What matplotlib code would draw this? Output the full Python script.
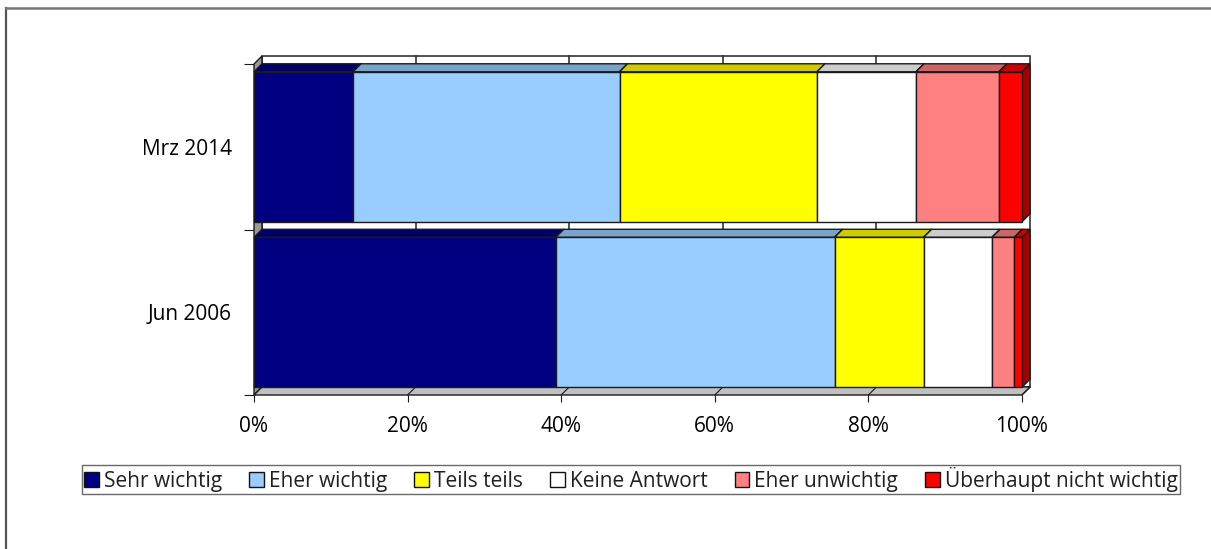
import numpy as np
import matplotlib.pyplot as plt
from matplotlib.patches import Polygon, Patch
from matplotlib.lines import Line2D
from matplotlib.colors import to_rgb

plt.rcParams['font.family'] = ['Open Sans', 'DejaVu Sans']
plt.rcParams['text.color'] = '#231f20'

# survey answers in percent, one entry per period
periods = ['Jun 2006', 'Mrz 2014']
series = ['Sehr wichtig', 'Eher wichtig', 'Teils teils', 'Keine Antwort',
          'Eher unwichtig', 'Überhaupt nicht wichtig']
sehr_wichtig = [39.3, 12.9]
eher_wichtig = [36.3, 34.7]
teils_teils = [11.6, 25.7]
keine_antwort = [8.9, 12.9]
eher_unwichtig = [2.9, 10.8]
ueberhaupt_nicht = [1.0, 3.0]
values = [sehr_wichtig, eher_wichtig, teils_teils, keine_antwort,
          eher_unwichtig, ueberhaupt_nicht]
colors = ['#000080', '#99ccff', '#ffff00', '#ffffff', '#ff8080', '#ff0000']
xticks = [0, 20, 40, 60, 80, 100]

W, H = 1211, 549
fig = plt.figure(figsize=(W / 100, H / 100), dpi=100)

# front plane of the 3d box in pixels
left, right, top, bottom = 254, 1022, 64, 395
ax = fig.add_axes([left / W, 1 - bottom / H, (right - left) / W, (bottom - top) / H])
ax.set_xlim(0, 100)
ax.set_ylim(-0.5, 1.5)

# depth of the box (8 px right and up), converted to data units
depth = 8
dx = depth / (right - left) * 100
dy = depth / (bottom - top) * 2
y0, y1 = -0.5, 1.5
ec = '#1a1a1a'


def shade(c, f):
    r, g, b = to_rgb(c)
    return (r * f, g * f, b * f)


def poly(pts, fc, z, lw=1.0, edge=ec):
    ax.add_patch(Polygon(pts, closed=True, facecolor=fc, edgecolor=edge,
                         linewidth=lw, clip_on=False, zorder=z))


# back wall with gridlines
poly([(dx, y0 + dy), (100 + dx, y0 + dy), (100 + dx, y1 + dy), (dx, y1 + dy)],
     'white', 1, lw=1.2, edge='#333333')
for t in xticks[1:-1]:
    ax.plot([t + dx, t + dx], [y0 + dy, y1 + dy], color='#333333', lw=1.2,
            zorder=1.1, clip_on=False)

# left wall and floor
poly([(0, y0), (0, y1), (dx, y1 + dy), (dx, y0 + dy)], '#9a9a9a', 2)
poly([(0, y0), (100, y0), (100 + dx, y0 + dy), (dx, y0 + dy)], '#c0c0c0', 2)
for t in xticks[1:]:
    ax.plot([t, t + dx], [y0, y0 + dy], color=ec, lw=0.8, zorder=2.1,
            clip_on=False)

# stacked 3d bars
bar_h = 0.906
for i, p in enumerate(periods):
    yb, yt = i - bar_h / 2, i + bar_h / 2
    start = 0
    for k, vals in enumerate(values):
        end = start + vals[i]
        c = colors[k]
        z = 3 + k * 0.1
        poly([(start, yt), (end, yt), (end + dx, yt + dy), (start + dx, yt + dy)],
             shade(c, 0.8), z)
        poly([(end, yb), (end + dx, yb + dy), (end + dx, yt + dy), (end, yt)],
             shade(c, 0.65), z)
        poly([(start, yb), (end, yb), (end, yt), (start, yt)], c, z + 0.05)
        start = end

for s in ax.spines.values():
    s.set_visible(False)
ax.set_facecolor('none')

ax.set_xticks(xticks)
ax.set_xticklabels([f'{t}%' for t in xticks], fontsize=15)
ax.tick_params(axis='x', length=5, width=0.8, color=ec, pad=10)
ax.set_yticks(range(len(periods)))
ax.set_yticklabels(periods, fontsize=15)
ax.tick_params(axis='y', which='major', length=0, pad=16)
ax.set_yticks([-0.5, 0.5, 1.5], minor=True)
ax.tick_params(axis='y', which='minor', length=7, width=0.8, color=ec)

# outer frame of the chart area
fig.add_artist(Line2D([5.5 / W, 5.5 / W], [0, 1 - 7.5 / H], color='#555555',
                      lw=1.6, transform=fig.transFigure))
fig.add_artist(Line2D([5.5 / W, 1], [1 - 7.5 / H, 1 - 7.5 / H], color='#777777',
                      lw=1.8, transform=fig.transFigure))

handles = [Patch(facecolor=c, edgecolor='#111111', linewidth=1.0) for c in colors]
fig.legend(handles, series, ncol=6, loc='center',
           bbox_to_anchor=(631 / W, 1 - 479.5 / H), fontsize=15,
           frameon=True, fancybox=False, edgecolor='#444444',
           handlelength=0.7, handleheight=0.7, handletextpad=0.25,
           columnspacing=1.3, borderpad=0.1, borderaxespad=0)

fig.savefig('out.png', dpi=100)
